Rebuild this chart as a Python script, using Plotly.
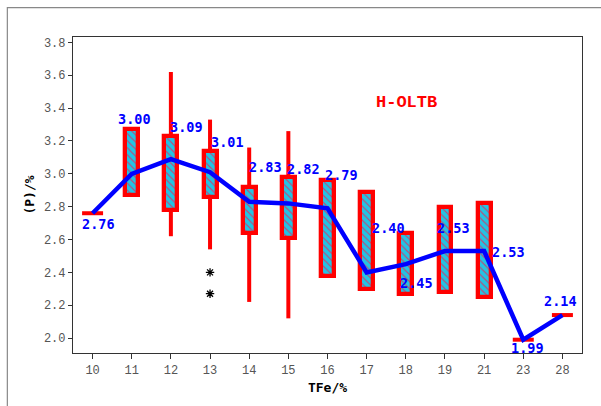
import plotly.graph_objects as go

# TFe grade classes and phosphorus statistics per class
categories = ["10", "11", "12", "13", "14", "15", "16", "17", "18", "19", "21", "23", "28"]
means = [2.76, 3.00, 3.09, 3.01, 2.83, 2.82, 2.79, 2.40, 2.45, 2.53, 2.53, 1.99, 2.14]
q1 = [None, 2.87, 2.78, 2.86, 2.64, 2.61, 2.38, 2.30, 2.27, 2.28, 2.25, None, None]
q3 = [None, 3.27, 3.23, 3.14, 2.92, 2.98, 2.96, 2.89, 2.64, 2.80, 2.82, None, None]
whisker_low = [None, None, 2.62, 2.54, 2.22, 2.12, None, None, None, None, None, None, None]
whisker_high = [None, None, 3.62, 3.33, 3.16, 3.26, None, None, None, None, None, None, None]
single_values = [2.76, None, None, None, None, None, None, None, None, None, None, 1.99, 2.14]
outlier_cats = ["13", "13"]
outlier_values = [2.40, 2.27]
y_ticks = [2.0, 2.2, 2.4, 2.6, 2.8, 3.0, 3.2, 3.4, 3.6, 3.8]

# pixel offsets of each mean label from its point
label_dx = [6, 3, 16, 17, 16, 15, 14, 22, 11, 9, 24, 4, -2]
label_dy = [-11, 55, 32, 30, 35, 34, 33, 44, -19, 23, -1, -8, 14]

RED = "#FF0000"
BLUE = "#0000FF"
CYAN = "#22C4E4"

fig = go.Figure()

# boxes (Q1..Q3) as floating bars with hatched fill
box_base = [a for a in q1]
box_len = [(b - a) if (a is not None and b is not None) else None for a, b in zip(q1, q3)]
fig.add_trace(go.Bar(
    x=categories, y=box_len, base=box_base, width=0.33,
    marker=dict(
        color=CYAN,
        line=dict(color=RED, width=4.3),
        pattern=dict(shape="\\", fgcolor="#D03868", bgcolor=CYAN,
                     size=5, solidity=0.22, fgopacity=0.85, fillmode="replace"),
    ),
    hoverinfo="skip", showlegend=False,
))

# whiskers from box edges to the extremes
wx, wy = [], []
for c, lo, hi, a, b in zip(categories, whisker_low, whisker_high, q1, q3):
    if hi is not None:
        wx += [c, c, None]
        wy += [b, hi, None]
    if lo is not None:
        wx += [c, c, None]
        wy += [a, lo, None]
fig.add_trace(go.Scatter(
    x=wx, y=wy, mode="lines", line=dict(color=RED, width=4),
    hoverinfo="skip", showlegend=False, connectgaps=False,
))

# single-sample classes drawn as short red bars
fig.add_trace(go.Scatter(
    x=categories, y=single_values, mode="markers",
    marker=dict(symbol="line-ew", size=15, line=dict(color=RED, width=4)),
    hoverinfo="skip", showlegend=False,
))

# outliers
fig.add_trace(go.Scatter(
    x=outlier_cats, y=outlier_values, mode="markers",
    marker=dict(symbol="asterisk-open", size=7, color="black",
                line=dict(color="black", width=1.3)),
    hoverinfo="skip", showlegend=False,
))

# mean line
fig.add_trace(go.Scatter(
    x=categories, y=means, mode="lines", line=dict(color=BLUE, width=4.5),
    hoverinfo="skip", showlegend=False,
))

# mean value labels (category axis positions addressed by index)
for i, (m, dx, dy) in enumerate(zip(means, label_dx, label_dy)):
    fig.add_annotation(
        x=i, y=m, text=f"{m:.2f}", showarrow=False,
        xshift=dx, yshift=dy,
        font=dict(family="DejaVu Sans Mono", size=13.5, color=BLUE, weight="bold"),
    )

fig.add_annotation(
    x=0.655, y=0.83, xref="paper", yref="paper", text="H-OLTB", showarrow=False,
    font=dict(family="Liberation Mono", size=17, color=RED, weight="bold"),
)

# outer frame of the figure
fig.add_shape(type="rect", xref="paper", yref="paper",
              x0=-0.129, x1=1.2, y0=-0.3, y1=1.093,
              line=dict(color="#888888", width=1.2), layer="below")

fig.update_layout(
    width=601, height=406,
    margin=dict(l=73, r=19, t=37, b=53),
    paper_bgcolor="white", plot_bgcolor="white",
    bargap=0,
)
fig.update_xaxes(
    type="category", categoryorder="array", categoryarray=categories,
    range=[-0.5, 12.5],
    showline=True, linecolor="#333333", linewidth=1.2, mirror=True,
    ticks="outside", ticklen=5, tickcolor="#333333", showgrid=False,
    tickfont=dict(family="Liberation Mono", size=12, color="#555555"),
    title=dict(text="TFe/%", standoff=6,
               font=dict(family="DejaVu Sans Mono", size=13, color="black", weight="bold")),
)
fig.update_yaxes(
    range=[1.909, 3.833], tickvals=y_ticks, tickformat=".1f",
    showline=True, linecolor="#333333", linewidth=1.2, mirror=True,
    ticks="outside", ticklen=4, tickcolor="#333333", showgrid=False, zeroline=False,
    tickfont=dict(family="Liberation Mono", size=12, color="#555555"),
    title=dict(text="(P)/%", standoff=6,
               font=dict(family="DejaVu Sans Mono", size=13, color="black", weight="bold")),
)

fig.write_html("out.html")
